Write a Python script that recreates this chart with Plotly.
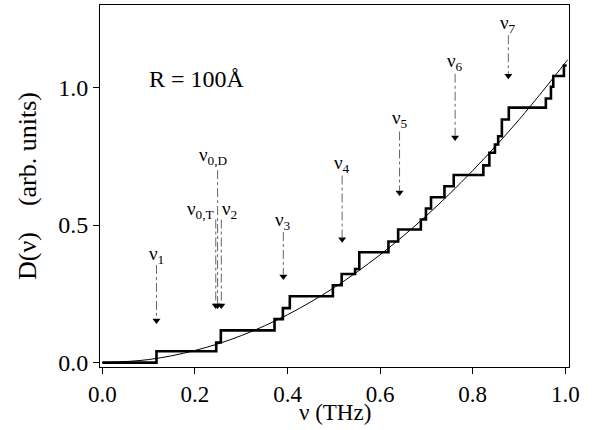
import plotly.graph_objects as go

# Staircase (mode counting) : jump positions and level after each jump
step_nu = [0.0, 0.117, 0.246, 0.256, 0.372, 0.390, 0.405, 0.498, 0.517, 0.546, 0.555,
           0.618, 0.639, 0.688, 0.699, 0.710, 0.739, 0.759, 0.823, 0.836, 0.848,
           0.855, 0.863, 0.878, 0.958, 0.969, 0.974, 0.997, 1.003]
step_D = [0.0, 0.041, 0.073, 0.117, 0.158, 0.198, 0.241, 0.281, 0.322, 0.340, 0.401,
          0.440, 0.484, 0.520, 0.560, 0.601, 0.641, 0.682, 0.717, 0.763, 0.793,
          0.823, 0.884, 0.927, 0.960, 1.003, 1.042, 1.080, 1.080]

# Smooth (continuum) curve
curve_nu = [0.0, 0.1, 0.2, 0.3, 0.4, 0.5, 0.6, 0.7, 0.8, 0.9, 1.0, 1.005]
curve_D = [0.0, 0.011, 0.044, 0.098, 0.174, 0.272, 0.392, 0.534, 0.698, 0.883, 1.090, 1.101]

# Marked frequencies (arrows)
arr_labels = ["ν<sub>1</sub>", "ν<sub>0,T</sub>", "ν<sub>0,D</sub>", "ν<sub>2</sub>",
              "ν<sub>3</sub>", "ν<sub>4</sub>", "ν<sub>5</sub>", "ν<sub>6</sub>", "ν<sub>7</sub>"]
arr_nu = [0.117, 0.245, 0.249, 0.257, 0.391, 0.518, 0.642, 0.762, 0.877]
arr_top = [0.355, 0.520, 0.700, 0.520, 0.475, 0.680, 0.840, 1.050, 1.190]
arr_head = [0.140, 0.195, 0.195, 0.195, 0.300, 0.435, 0.605, 0.805, 1.030]
lab_nu = [0.117, 0.212, 0.240, 0.275, 0.391, 0.518, 0.642, 0.762, 0.877]
lab_D = [0.390, 0.556, 0.752, 0.556, 0.514, 0.722, 0.885, 1.091, 1.232]

x_ticks = [0.0, 0.2, 0.4, 0.6, 0.8, 1.0]
x_ticklabels = ["0.0", "0.2", "0.4", "0.6", "0.8", "1.0"]
y_ticks = [0.0, 0.5, 1.0]
y_ticklabels = ["0.0", "0.5", "1.0"]

SERIF = "Liberation Serif, Times New Roman, serif"

fig = go.Figure()

# arrows (dash-dot shafts)
for i in range(len(arr_nu)):
    fig.add_trace(go.Scatter(
        x=[arr_nu[i], arr_nu[i]], y=[arr_top[i], arr_head[i] + 0.02],
        mode="lines", line=dict(color="#666666", width=1, dash="dashdot"),
        showlegend=False, hoverinfo="skip"))
# arrow heads
fig.add_trace(go.Scatter(
    x=arr_nu, y=[h + 0.013 for h in arr_head], mode="markers",
    marker=dict(symbol="triangle-down", size=7, color="black"),
    showlegend=False, hoverinfo="skip"))

fig.add_trace(go.Scatter(
    x=curve_nu, y=curve_D, mode="lines", line=dict(color="black", width=1, shape="spline"),
    showlegend=False))
fig.add_trace(go.Scatter(
    x=step_nu, y=step_D, mode="lines", line=dict(color="black", width=2.6, shape="hv"),
    showlegend=False))

for t, xv, yv in zip(arr_labels, lab_nu, lab_D):
    fig.add_annotation(x=xv, y=yv, text=t, showarrow=False, xanchor="center", yanchor="middle",
                       font=dict(family=SERIF, size=19, color="black"))

fig.add_annotation(x=0.204, y=1.03, text="R = 100Å", showarrow=False, xanchor="center",
                   yanchor="middle", font=dict(family=SERIF, size=24, color="black"))

# x-axis title placed as annotation
fig.add_annotation(x=0.5, y=-0.127, xref="paper", yref="paper", text="ν (THz)",
                   showarrow=False, xanchor="center", yanchor="middle",
                   font=dict(family=SERIF, size=23, color="black"))

fig.update_layout(
    width=594, height=430,
    margin=dict(l=100, r=25, t=5, b=63),
    paper_bgcolor="white", plot_bgcolor="white",
    font=dict(family=SERIF, size=24, color="black"),
    xaxis=dict(range=[-0.005, 1.008], tickvals=x_ticks, ticktext=x_ticklabels,
               ticks="outside", ticklen=6, tickwidth=1, tickcolor="black",
               tickfont=dict(family=SERIF, size=23),
               showline=True, linecolor="black", linewidth=1, mirror=True,
               showgrid=False, zeroline=False),
    yaxis=dict(range=[-0.016, 1.30], tickvals=y_ticks, ticktext=y_ticklabels,
               ticks="outside", ticklen=6, tickwidth=1, tickcolor="black",
               tickfont=dict(family=SERIF, size=24),
               showline=True, linecolor="black", linewidth=1, mirror=True,
               showgrid=False, zeroline=False,
               title=dict(text="D(ν)\u00a0\u00a0\u00a0 (arb. units)",
                          font=dict(family=SERIF, size=26), standoff=14)),
)

fig.write_html("out.html", post_script="document.body.style.margin='0px';",
               config={"displayModeBar": False})
